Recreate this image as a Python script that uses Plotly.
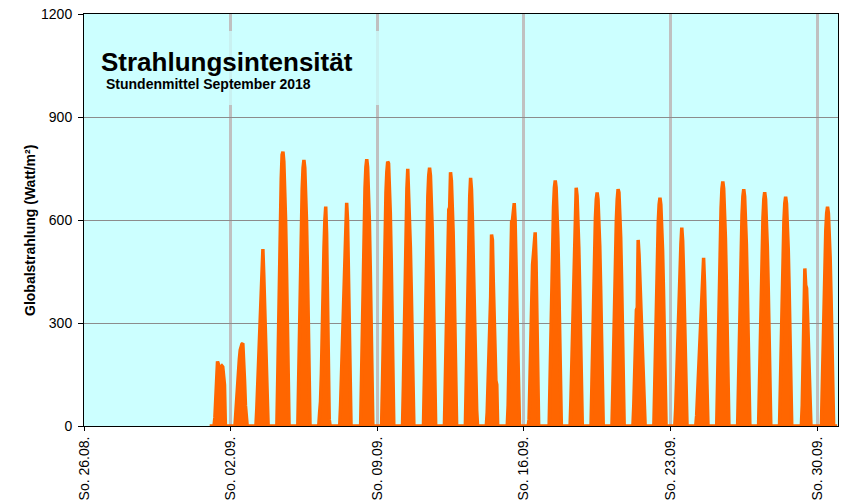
import plotly.graph_objects as go
import pandas as pd

# Hourly means (W/m²) for hours 05..19 of each day in September 2018; other hours are 0
DAY_HOURS = list(range(5, 20))
sep01 = [0, 25, 80, 140, 188, 180, 165, 170, 173, 175, 172, 140, 120, 0, 0]
sep02 = [0, 40, 90, 134, 165, 195, 221, 232, 239, 241, 200, 130, 60, 0, 0]
sep03 = [0, 50, 110, 170, 240, 318, 380, 450, 515, 440, 340, 230, 120, 30, 0]
sep04 = [0, 140, 320, 480, 615, 720, 790, 799, 770, 700, 600, 470, 310, 130, 0]
sep05 = [0, 140, 310, 465, 597, 690, 752, 775, 752, 690, 597, 465, 310, 140, 0]
sep06 = [0, 40, 71, 150, 300, 420, 520, 600, 639, 560, 380, 150, 20, 0, 0]
sep07 = [0, 60, 160, 260, 340, 401, 480, 570, 650, 600, 450, 280, 100, 0, 0]
sep08 = [0, 140, 311, 466, 598, 692, 754, 777, 754, 692, 598, 466, 311, 140, 0]
sep09 = [0, 120, 280, 440, 580, 680, 740, 770, 765, 710, 620, 490, 330, 150, 0]
sep10 = [0, 120, 290, 450, 590, 690, 749, 687, 620, 520, 400, 260, 110, 0, 0]
sep11 = [0, 135, 301, 451, 579, 669, 729, 752, 729, 669, 579, 451, 301, 135, 0]
sep12 = [0, 130, 295, 445, 560, 630, 637, 739, 715, 655, 565, 440, 295, 130, 0]
sep13 = [0, 130, 290, 440, 570, 670, 723, 690, 610, 490, 340, 180, 55, 45, 0]
sep14 = [0, 40, 130, 230, 320, 377, 558, 542, 420, 300, 200, 132, 120, 0, 0]
sep15 = [0, 60, 200, 340, 470, 595, 600, 630, 649, 600, 480, 320, 140, 0, 0]
sep16 = [0, 20, 150, 300, 464, 470, 500, 530, 564, 480, 330, 120, 0, 0, 0]
sep17 = [0, 129, 286, 429, 551, 636, 694, 715, 694, 636, 551, 429, 286, 129, 0]
sep18 = [0, 80, 200, 330, 440, 498, 600, 694, 670, 610, 520, 400, 260, 110, 0]
sep19 = [0, 122, 272, 408, 524, 605, 660, 680, 660, 605, 524, 408, 272, 122, 0]
sep20 = [0, 110, 250, 390, 510, 600, 660, 690, 680, 630, 550, 430, 290, 130, 0]
sep21 = [0, 60, 170, 280, 338, 345, 542, 500, 430, 350, 260, 170, 90, 20, 0]
sep22 = [0, 120, 266, 399, 512, 592, 645, 665, 645, 592, 512, 399, 266, 120, 0]
sep23 = [0, 50, 140, 240, 320, 367, 450, 530, 578, 540, 450, 330, 190, 60, 0]
sep24 = [0, 30, 90, 160, 230, 300, 360, 382, 440, 490, 420, 300, 170, 50, 0]
sep25 = [0, 128, 285, 427, 548, 634, 691, 712, 691, 634, 548, 427, 285, 128, 0]
sep26 = [0, 124, 276, 414, 531, 614, 669, 690, 669, 614, 531, 414, 276, 124, 0]
sep27 = [0, 123, 272, 409, 524, 606, 661, 681, 661, 606, 524, 409, 272, 123, 0]
sep28 = [0, 120, 267, 401, 514, 595, 648, 668, 648, 595, 514, 401, 267, 120, 0]
sep29 = [0, 0, 60, 200, 340, 459, 410, 401, 330, 240, 150, 70, 0, 0, 0]
sep30 = [0, 115, 256, 383, 492, 569, 620, 639, 620, 569, 492, 383, 256, 115, 0]

sunday_dates = ["2018-08-26", "2018-09-02", "2018-09-09", "2018-09-16",
                "2018-09-23", "2018-09-30"]
sunday_labels = ["So. 26.08.", "So. 02.09.", "So. 09.09.", "So. 16.09.",
                 "So. 23.09.", "So. 30.09."]
y_ticks = [0, 300, 600, 900, 1200]

title_text = "Strahlungsintensität"
subtitle_text = "Stundenmittel September 2018"
y_title = "Globalstrahlung (Watt/m²)"

days = [sep01, sep02, sep03, sep04, sep05, sep06, sep07, sep08, sep09, sep10,
        sep11, sep12, sep13, sep14, sep15, sep16, sep17, sep18, sep19, sep20,
        sep21, sep22, sep23, sep24, sep25, sep26, sep27, sep28, sep29, sep30]

times = pd.date_range("2018-09-01 00:00", periods=24 * len(days), freq="h")
values = []
for prof in days:
    for h in range(24):
        values.append(prof[DAY_HOURS.index(h)] if h in DAY_HOURS else 0)

FONT = "Liberation Sans, Arial, sans-serif"
ORANGE = "#FF6600"

fig = go.Figure()
fig.add_trace(go.Scatter(
    x=times, y=values, mode="lines", fill="tozeroy",
    line=dict(color=ORANGE, width=3.5), fillcolor=ORANGE,
    hoverinfo="skip", showlegend=False))

# plot area in px: x 84..837.6, y 14..426
L, R, T, B = 84, 7.4, 14, 77
W, H = 845, 503
pw, ph = W - L - R, H - T - B

def px(xp):
    return (xp - L) / pw

def py(yp):
    return (H - B - yp) / ph

fig.add_shape(type="rect", xref="paper", yref="paper",
              x0=px(92), x1=px(380), y0=py(105), y1=py(31),
              fillcolor="rgba(204,255,255,0.78)", line=dict(width=0), layer="above")

fig.add_annotation(text="<b>" + title_text + "</b>", xref="paper", yref="paper",
                   x=px(99), y=py(62), xanchor="left", yanchor="middle", showarrow=False,
                   font=dict(family=FONT, size=26, color="black"))
fig.add_annotation(text="<b>" + subtitle_text + "</b>", xref="paper", yref="paper",
                   x=px(104), y=py(84), xanchor="left", yanchor="middle", showarrow=False,
                   font=dict(family=FONT, size=14, color="black"))
fig.add_annotation(text="<b>" + y_title + "</b>", xref="paper", yref="paper",
                   x=px(30), y=py(230), xanchor="center", yanchor="middle", showarrow=False,
                   textangle=-90, font=dict(family=FONT, size=14, color="black"))

fig.update_layout(
    width=W, height=H,
    margin=dict(l=L, r=R, t=T, b=B, pad=0, autoexpand=False),
    paper_bgcolor="white", plot_bgcolor="#CCFFFF",
    font=dict(family=FONT, size=14, color="black"),
    xaxis=dict(
        type="date", range=["2018-08-26 00:00", "2018-10-01 00:00"],
        tickmode="array", tickvals=sunday_dates, ticktext=sunday_labels,
        tickangle=-90, ticks="outside", ticklen=4, tickcolor="black",
        showgrid=True, gridcolor="#C0C0C0", gridwidth=3,
        showline=True, linecolor="black", linewidth=1, mirror=True,
        zeroline=False, layer="below traces", automargin=False,
        tickfont=dict(family=FONT, size=14, color="black")),
    yaxis=dict(
        range=[0, 1200], tickmode="array", tickvals=y_ticks,
        ticks="outside", ticklen=5, tickcolor="black", ticklabelstandoff=3,
        showgrid=True, gridcolor="#8C8C8C", gridwidth=1,
        showline=True, linecolor="black", linewidth=1, mirror=True,
        zeroline=False, layer="below traces", automargin=False,
        tickfont=dict(family=FONT, size=14, color="black")),
)

fig.write_html("out.html", config={"displayModeBar": False},
               post_script="document.body.style.margin='0px';document.body.style.padding='0px';")
